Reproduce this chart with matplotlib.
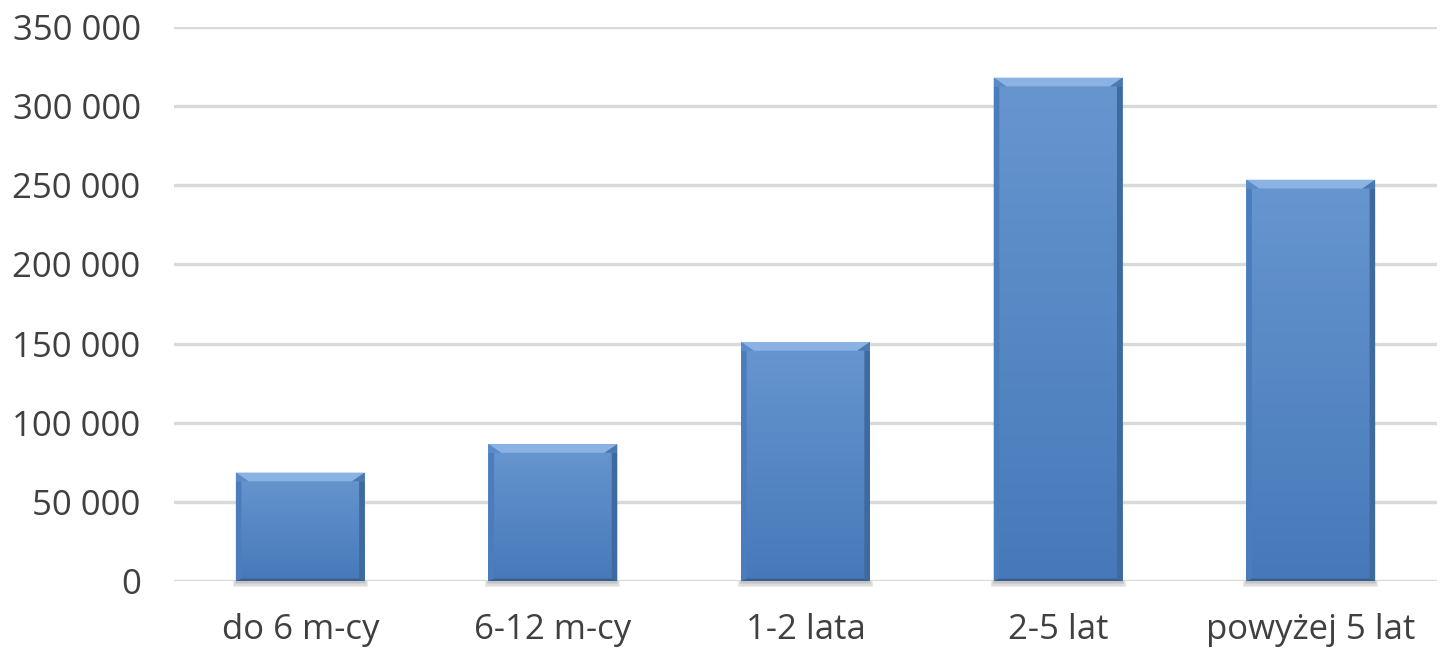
import numpy as np
import matplotlib
matplotlib.use("Agg")
import matplotlib.pyplot as plt
from matplotlib.patches import Polygon
from matplotlib.ticker import FuncFormatter

categories = ["do 6 m-cy", "6-12 m-cy", "1-2 lata", "2-5 lat", "powyżej 5 lat"]
values = [68500, 86500, 151000, 318000, 253500]
yticks = [0, 50000, 100000, 150000, 200000, 250000, 300000, 350000]

plt.rcParams['font.family'] = ['Open Sans', 'DejaVu Sans']

fig = plt.figure(figsize=(14.45, 6.49), dpi=100)
ax = fig.add_axes([0.1204, 0.1048, 0.8741, 0.8536])

x = np.arange(len(categories))
width = 0.51
bars = ax.bar(x, values, width=width, color='#5287C7', zorder=3, linewidth=0)

ax.set_xlim(-0.5, len(categories) - 0.5)
ax.set_ylim(0, 350000)

# bevel look for each bar
bx = 0.05    # top bevel, horizontal in data units
by = 5500    # top bevel, vertical in data units
sx = 0.022   # side bevel width
grad = np.linspace(0, 1, 100).reshape(-1, 1)
cmap = matplotlib.colors.LinearSegmentedColormap.from_list('b', ['#4779BA', '#6796CF'])
for b in bars:
    x0 = b.get_x()
    x1 = x0 + b.get_width()
    y1 = b.get_height()
    im = ax.imshow(grad, extent=(x0, x1, 0, y1), aspect='auto', origin='lower',
                   cmap=cmap, zorder=3)
    im.set_clip_path(b)
    # soft shadow under bar
    for k in range(4):
        ax.add_patch(Polygon([(x0 - 0.004 * k, 0), (x1 + 0.004 * k, 0),
                              (x1 + 0.004 * k, -1500 - 700 * k), (x0 - 0.004 * k, -1500 - 700 * k)],
                             closed=True, color='#707070', alpha=0.12, lw=0, zorder=2,
                             clip_on=False))
    ax.add_patch(Polygon([(x0, y1 - by), (x0 + sx, y1 - by), (x0 + sx, 1500), (x0, 0)],
                         closed=True, color='#4B7DBD', lw=0, zorder=4))
    ax.add_patch(Polygon([(x1, y1 - by), (x1 - sx, y1 - by), (x1 - sx, 1500), (x1, 0)],
                         closed=True, color='#3E6A9F', lw=0, zorder=4))
    ax.add_patch(Polygon([(x0, 0), (x1, 0), (x1 - sx, 1500), (x0 + sx, 1500)],
                         closed=True, color='#385F92', lw=0, zorder=4))
    ax.add_patch(Polygon([(x0, y1), (x1, y1), (x1 - bx, y1 - by), (x0 + bx, y1 - by)],
                         closed=True, color='#8AB3E4', lw=0, zorder=5))
    ax.add_patch(Polygon([(x0, y1), (x0 + bx, y1 - by), (x0, y1 - by)],
                         closed=True, color='#5A8BC8', lw=0, zorder=5))
    ax.add_patch(Polygon([(x1, y1), (x1 - bx, y1 - by), (x1, y1 - by)],
                         closed=True, color='#4A78B0', lw=0, zorder=5))

ax.set_yticks(yticks)
ax.yaxis.set_major_formatter(FuncFormatter(lambda v, p: f"{int(v):,}".replace(",", " ")))
ax.set_xticks(x)
ax.set_xticklabels(categories)
ax.grid(axis='y', color='#D9D9D9', linewidth=2.4, zorder=0)
ax.set_axisbelow(True)
for s in ax.spines.values():
    s.set_visible(False)
ax.tick_params(axis='both', length=0, labelsize=25, labelcolor='#404040')
ax.tick_params(axis='y', pad=24)
ax.tick_params(axis='x', pad=23)

fig.savefig("out.png", dpi=100)
